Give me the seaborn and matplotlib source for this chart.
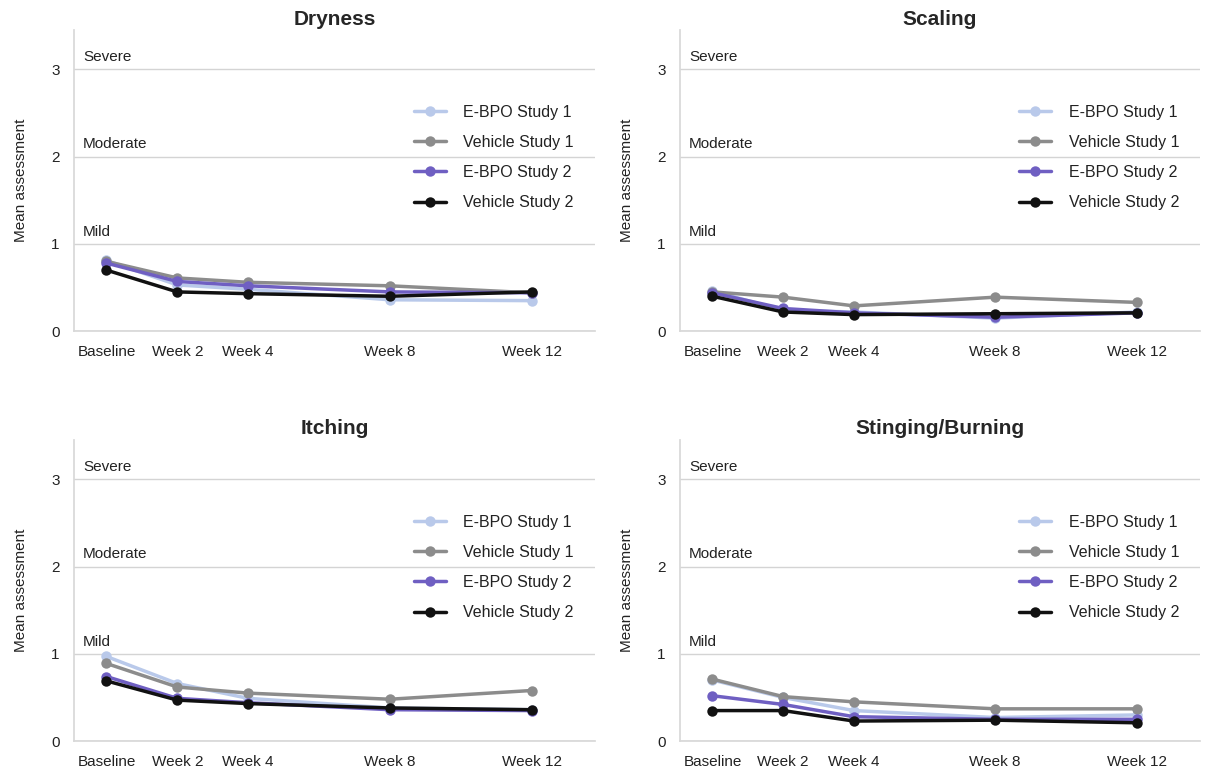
import matplotlib
import matplotlib.pyplot as plt
import pandas as pd
import seaborn as sns

matplotlib.use("agg")
sns.set_theme(style="white", font_scale=1)
plt.rcParams["font.family"] = ["Liberation Sans", "DejaVu Sans"]

weeks = [0, 2, 4, 8, 12]
week_labels = ["Baseline", "Week 2", "Week 4", "Week 8", "Week 12"]
groups = ["E-BPO Study 1", "Vehicle Study 1", "E-BPO Study 2", "Vehicle Study 2"]
colors = ["#b9c9ea", "#8c8c8c", "#6f5fc2", "#111111"]
levels = ["Mild", "Moderate", "Severe"]

# mean assessment per group, per visit
dryness = {
    "E-BPO Study 1": [0.81, 0.53, 0.48, 0.36, 0.35],
    "Vehicle Study 1": [0.80, 0.61, 0.56, 0.52, 0.44],
    "E-BPO Study 2": [0.78, 0.57, 0.52, 0.45, 0.44],
    "Vehicle Study 2": [0.70, 0.45, 0.43, 0.40, 0.45],
}
scaling = {
    "E-BPO Study 1": [0.46, 0.24, 0.22, 0.15, 0.22],
    "Vehicle Study 1": [0.45, 0.39, 0.29, 0.39, 0.33],
    "E-BPO Study 2": [0.44, 0.26, 0.21, 0.16, 0.21],
    "Vehicle Study 2": [0.40, 0.22, 0.19, 0.20, 0.21],
}
itching = {
    "E-BPO Study 1": [0.97, 0.66, 0.49, 0.38, 0.36],
    "Vehicle Study 1": [0.89, 0.62, 0.55, 0.48, 0.58],
    "E-BPO Study 2": [0.74, 0.49, 0.44, 0.36, 0.35],
    "Vehicle Study 2": [0.69, 0.47, 0.43, 0.38, 0.36],
}
stinging = {
    "E-BPO Study 1": [0.70, 0.50, 0.35, 0.27, 0.30],
    "Vehicle Study 1": [0.71, 0.51, 0.45, 0.37, 0.37],
    "E-BPO Study 2": [0.52, 0.42, 0.28, 0.25, 0.25],
    "Vehicle Study 2": [0.35, 0.35, 0.23, 0.24, 0.21],
}

panels = [
    ("Dryness", dryness),
    ("Scaling", scaling),
    ("Itching", itching),
    ("Stinging/Burning", stinging),
]
positions = [
    [0.061, 0.571, 0.433, 0.39],
    [0.564, 0.571, 0.432, 0.39],
    [0.061, 0.040, 0.433, 0.39],
    [0.564, 0.040, 0.432, 0.39],
]

fig = plt.figure(figsize=(12.05, 7.72), dpi=100)
for (title, values), pos in zip(panels, positions):
    ax = fig.add_axes(pos)
    rows = []
    for g in groups:
        for w, v in zip(weeks, values[g]):
            rows.append({"week": w, "value": v, "group": g})
    df = pd.DataFrame(rows)
    sns.lineplot(data=df, x="week", y="value", hue="group", hue_order=groups,
                 palette=dict(zip(groups, colors)), marker="o", markersize=7.5,
                 markeredgewidth=0, linewidth=2.5, ax=ax)
    ax.set_xlim(-0.93, 13.8)
    ax.set_ylim(0, 3.45)
    ax.set_xticks(weeks)
    ax.set_xticklabels(week_labels, fontsize=11, color="#222222")
    ax.set_yticks([0, 1, 2, 3])
    ax.set_yticklabels(["0", "1", "2", "3"], fontsize=11, color="#222222")
    ax.tick_params(axis="x", length=0, pad=10)
    ax.tick_params(axis="y", length=0, pad=10)
    ax.yaxis.grid(True, color="#d4d4d4", linewidth=1)
    ax.set_axisbelow(True)
    for s in ["top", "right"]:
        ax.spines[s].set_visible(False)
    for s in ["left", "bottom"]:
        ax.spines[s].set_color("#d8d8d8")
    for i, lvl in enumerate(levels):
        ax.text(0.018, i + 1 + 0.06, lvl, transform=ax.get_yaxis_transform(),
                fontsize=11, color="#222222", va="bottom", ha="left")
    ax.set_xlabel("")
    ax.set_ylabel("Mean assessment", fontsize=11, color="#222222", labelpad=17)
    ax.set_title(title, fontsize=15, fontweight="bold", pad=4)
    ax.legend(loc="upper left", bbox_to_anchor=(0.625, 0.80), frameon=False,
              fontsize=11.5, labelspacing=0.95, handlelength=2.0, handletextpad=1.1,
              labelcolor="#222222")

plt.savefig("out.png", dpi=100)
plt.close()
